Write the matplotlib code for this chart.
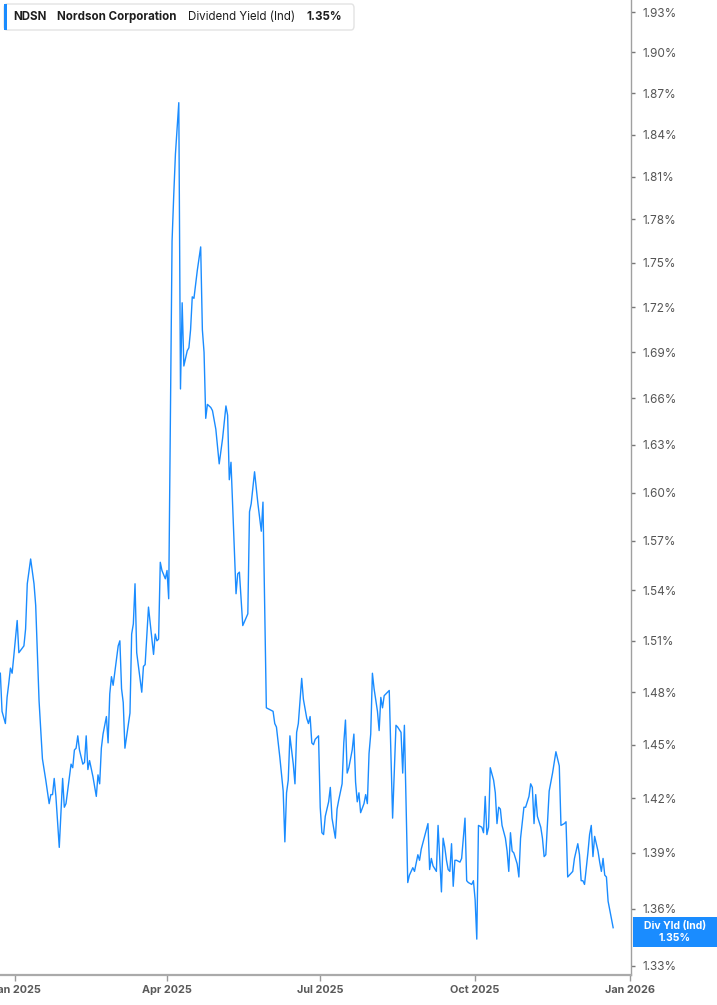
import numpy as np
import pandas as pd
import matplotlib
matplotlib.use("Agg")
import matplotlib.pyplot as plt
from matplotlib.patches import FancyBboxPatch, Rectangle
from matplotlib.ticker import FixedLocator, NullLocator, NullFormatter

plt.rcParams['font.family'] = ['Inter', 'DejaVu Sans']

# days since 2025-01-01, NDSN indicated dividend yield (%)
days = [-9, -8, -6, -5, -4, -3, -2, -1, 1, 2, 5, 6, 7, 9, 11, 12, 14, 16, 18, 20,
        21, 22, 23, 24, 26, 28, 29, 30, 33, 34, 35, 36, 37, 38, 40, 41, 42, 43, 44, 46,
        48, 49, 50, 51, 52, 54, 55, 56, 57, 58, 61, 62, 63, 64, 65, 68, 69, 70, 71, 72,
        75, 76, 77, 79, 82, 83, 84, 85, 86, 87, 89, 90, 91, 93, 94, 95, 97, 98, 99, 100,
        102, 103, 104, 105, 106, 108, 110, 111, 112, 113, 114, 116, 117, 119, 121, 123, 125, 126, 127, 128,
        131, 132, 133, 135, 138, 139, 140, 142, 144, 146, 147, 149, 151, 153, 154, 155, 157, 159, 160, 161,
        162, 163, 165, 166, 167, 168, 170, 171, 173, 174, 175, 176, 177, 178, 180, 181, 182, 183, 184, 186,
        187, 188, 190, 191, 192, 194, 195, 196, 197, 198, 200, 201, 202, 203, 204, 205, 207, 208, 209, 210,
        211, 212, 213, 215, 216, 217, 218, 219, 220, 222, 224, 226, 227, 229, 230, 231, 233, 234, 236, 237,
        239, 240, 241, 243, 245, 246, 247, 248, 250, 251, 253, 254, 255, 256, 257, 258, 259, 260, 261, 262,
        264, 265, 267, 268, 269, 271, 272, 273, 274, 275, 277, 278, 279, 280, 281, 282, 284, 285, 286, 287,
        288, 289, 291, 292, 293, 294, 295, 296, 298, 299, 300, 302, 303, 305, 306, 307, 308, 309, 310, 312,
        313, 314, 315, 317, 318, 319, 321, 323, 324, 326, 327, 328, 330, 331, 332, 334, 335, 336, 337, 338,
        340, 341, 342, 343, 344, 346, 347, 348, 349, 350, 351, 352, 355]
yield_pct = [1.491, 1.469, 1.462, 1.477, 1.485, 1.494, 1.491, 1.501, 1.522, 1.503, 1.507, 1.517, 1.544, 1.559, 1.544, 1.531, 1.475, 1.442, 1.430, 1.417,
             1.422, 1.422, 1.431, 1.421, 1.393, 1.431, 1.415, 1.417, 1.439, 1.437, 1.447, 1.448, 1.455, 1.447, 1.439, 1.440, 1.455, 1.436, 1.441, 1.432,
             1.421, 1.433, 1.428, 1.448, 1.456, 1.466, 1.451, 1.479, 1.489, 1.484, 1.507, 1.510, 1.482, 1.474, 1.448, 1.468, 1.514, 1.520, 1.544, 1.503,
             1.480, 1.495, 1.496, 1.530, 1.502, 1.514, 1.510, 1.511, 1.557, 1.552, 1.547, 1.552, 1.535, 1.765, 1.797, 1.826, 1.863, 1.666, 1.723, 1.681,
             1.691, 1.693, 1.705, 1.727, 1.726, 1.745, 1.761, 1.705, 1.690, 1.647, 1.656, 1.654, 1.652, 1.640, 1.618, 1.634, 1.655, 1.649, 1.608, 1.619,
             1.538, 1.550, 1.551, 1.519, 1.526, 1.588, 1.593, 1.613, 1.593, 1.576, 1.594, 1.471, 1.470, 1.469, 1.462, 1.460, 1.443, 1.424, 1.396, 1.423,
             1.430, 1.455, 1.439, 1.428, 1.457, 1.462, 1.488, 1.476, 1.465, 1.462, 1.466, 1.451, 1.450, 1.453, 1.455, 1.415, 1.401, 1.400, 1.410, 1.418,
             1.426, 1.409, 1.398, 1.414, 1.419, 1.428, 1.451, 1.464, 1.434, 1.437, 1.447, 1.456, 1.429, 1.418, 1.423, 1.412, 1.417, 1.422, 1.417, 1.445,
             1.456, 1.491, 1.482, 1.469, 1.458, 1.477, 1.471, 1.478, 1.479, 1.481, 1.409, 1.461, 1.460, 1.457, 1.434, 1.461, 1.374, 1.378, 1.382, 1.380,
             1.389, 1.386, 1.392, 1.399, 1.406, 1.381, 1.387, 1.383, 1.380, 1.405, 1.369, 1.398, 1.393, 1.386, 1.381, 1.380, 1.395, 1.372, 1.386, 1.386,
             1.385, 1.387, 1.409, 1.375, 1.374, 1.373, 1.375, 1.365, 1.344, 1.405, 1.404, 1.401, 1.421, 1.400, 1.404, 1.437, 1.430, 1.423, 1.406, 1.415,
             1.414, 1.405, 1.398, 1.391, 1.380, 1.401, 1.391, 1.390, 1.384, 1.377, 1.398, 1.415, 1.415, 1.421, 1.428, 1.426, 1.406, 1.422, 1.410, 1.404,
             1.398, 1.388, 1.389, 1.424, 1.429, 1.434, 1.446, 1.438, 1.405, 1.406, 1.407, 1.377, 1.379, 1.380, 1.387, 1.395, 1.389, 1.375, 1.375, 1.373,
             1.390, 1.400, 1.405, 1.388, 1.399, 1.391, 1.385, 1.380, 1.387, 1.378, 1.377, 1.364, 1.350]

ytick_vals = [1.33, 1.36, 1.39, 1.42, 1.45, 1.48, 1.51, 1.54, 1.57, 1.60,
              1.63, 1.66, 1.69, 1.72, 1.75, 1.78, 1.81, 1.84, 1.87, 1.90, 1.93]
xtick_dates = ['2025-01-01', '2025-04-01', '2025-07-01', '2025-10-01', '2026-01-01']
xtick_labels = ['Jan 2025', 'Apr 2025', 'Jul 2025', 'Oct 2025', 'Jan 2026']

ticker = 'NDSN'
company = 'Nordson Corporation'
metric = 'Dividend Yield (Ind)'
last_label = 'Div Yld (Ind)'

base = pd.Timestamp('2025-01-01')
dates = base + pd.to_timedelta(days, unit='D')

W, H = 717, 1005
blue = '#1a8cff'
fig = plt.figure(figsize=(W / 100, H / 100), dpi=100)
ax = fig.add_axes([0, 1 - 975 / H, 631 / W, 975 / H])

ax.plot(dates, yield_pct, color=blue, lw=1.0)

ax.set_yscale('log')
ax.set_ylim(1.3253, 1.9392)
ax.set_xlim(base + pd.Timedelta(days=-9.2), base + pd.Timedelta(days=365.6))

ax.yaxis.set_major_locator(FixedLocator(ytick_vals))
ax.yaxis.set_minor_locator(NullLocator())
ax.yaxis.set_minor_formatter(NullFormatter())
ax.set_yticklabels([f'{v:.2f}%' for v in ytick_vals])
ax.yaxis.tick_right()

ax.set_xticks(pd.to_datetime(xtick_dates))
ax.set_xticklabels(xtick_labels, fontweight='bold')

for s in ['left', 'top']:
    ax.spines[s].set_visible(False)
ax.spines['right'].set_color('#a0a0a0')
ax.spines['right'].set_linewidth(1.0)
ax.spines['bottom'].set_color('#aaaaaa')
ax.spines['bottom'].set_linewidth(1.6)

ax.tick_params(axis='y', length=3, width=1, color='#777777', labelcolor='#555555',
               labelsize=8.5, pad=5)
ax.tick_params(axis='x', length=4, width=1, color='#9a9a9a', labelcolor='#5a5a5a',
               labelsize=7.8, pad=3.5)

# header box
hdr = FancyBboxPatch((4 / W, 1 - 30 / H), 350 / W, 26 / H,
                     boxstyle='round,pad=0,rounding_size=0.004',
                     transform=fig.transFigure, facecolor='white',
                     edgecolor='#e3e3e3', lw=1.0, zorder=5)
fig.add_artist(hdr)
fig.add_artist(Rectangle((4 / W, 1 - 30 / H), 3 / W, 26 / H, transform=fig.transFigure,
                         facecolor=blue, edgecolor='none', zorder=6))
ty = 1 - 17 / H
hfs = 8.3
fig.text(13 / W, ty, ticker, fontsize=hfs, fontweight='bold', color='#1e1e1e',
         va='center', zorder=7)
fig.text(57 / W, ty, company, fontsize=hfs, fontweight='bold', color='#1e1e1e',
         va='center', zorder=7)
fig.text(188 / W, ty, metric, fontsize=hfs, color='#1e1e1e', va='center', zorder=7)
fig.text(306 / W, ty, f'{yield_pct[-1]:.2f}%', fontsize=hfs, fontweight='bold',
         color='#1e1e1e', va='center', zorder=7)

# last value tag on the axis
fig.add_artist(Rectangle((633 / W, 1 - 947 / H), 84 / W, 30 / H, transform=fig.transFigure,
                         facecolor=blue, edgecolor='none', zorder=6))
fig.text(675 / W, 1 - 926 / H, last_label, fontsize=7.5, fontweight='bold', color='white',
         ha='center', va='center', zorder=7)
fig.text(675 / W, 1 - 937.5 / H, f'{yield_pct[-1]:.2f}%', fontsize=7.5, fontweight='bold',
         color='white', ha='center', va='center', zorder=7)

fig.savefig('out.png', dpi=100)
